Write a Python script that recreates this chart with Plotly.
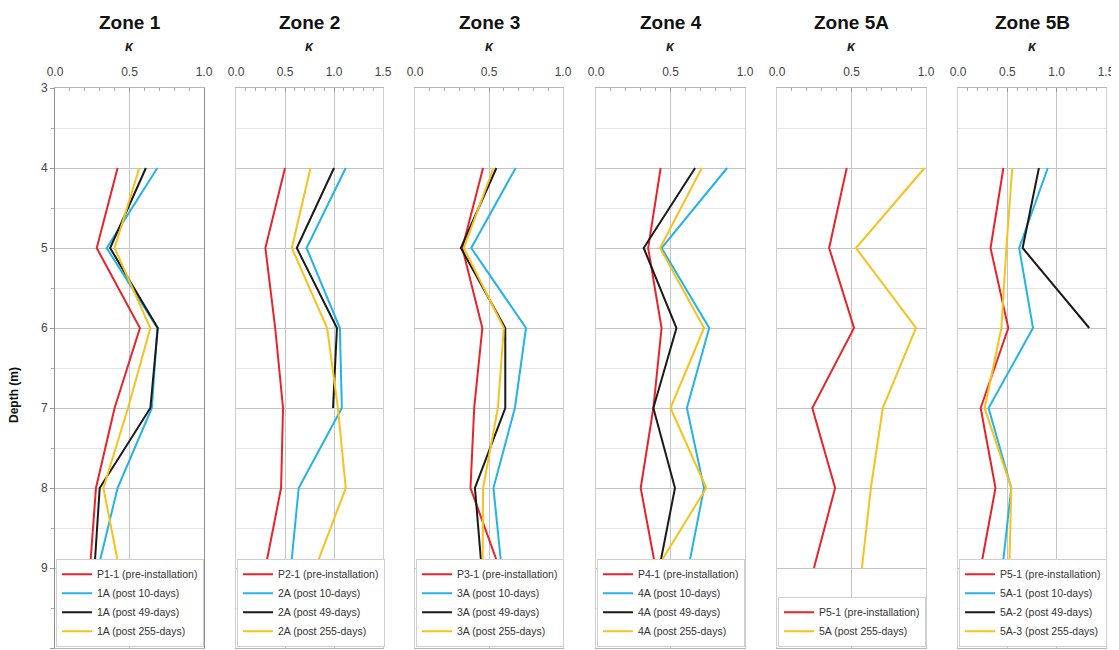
import plotly.graph_objects as go

# The page body has an 8px margin; the figure is sized so it fills the 1119x650 window exactly.
SCREEN_W, SCREEN_H = 1119, 650
OFF = 8
W, H = SCREEN_W - OFF, SCREEN_H - OFF

depths = [4, 5, 6, 7, 8, 9]

zone_titles = ["Zone 1", "Zone 2", "Zone 3", "Zone 4", "Zone 5A", "Zone 5B"]
x_max = [1.0, 1.5, 1.0, 1.0, 1.0, 1.5]

zone1_pre = [0.42, 0.28, 0.57, 0.40, 0.275, 0.235]
zone1_d10 = [0.687, 0.347, 0.687, 0.65, 0.42, 0.29]
zone1_d49 = [0.61, 0.37, 0.69, 0.64, 0.30, 0.265]
zone1_d255 = [0.566, 0.40, 0.64, 0.49, 0.325, 0.43]

zone2_pre = [0.50, 0.30, 0.40, 0.48, 0.46, 0.30]
zone2_d10 = [1.12, 0.72, 1.06, 1.08, 0.64, 0.56]
zone2_d49 = [1.0, 0.62, 1.03, 0.99, None, None]
zone2_d255 = [0.76, 0.57, 0.93, 1.04, 1.12, 0.81]

zone3_pre = [0.46, 0.32, 0.455, 0.40, 0.375, 0.57]
zone3_d10 = [0.68, 0.38, 0.75, 0.675, 0.53, 0.585]
zone3_d49 = [0.55, 0.31, 0.61, 0.61, 0.405, 0.45]
zone3_d255 = [0.53, 0.33, 0.60, 0.56, 0.46, 0.457]

zone4_pre = [0.434, 0.35, 0.44, 0.385, 0.30, 0.40]
zone4_d10 = [0.88, 0.44, 0.76, 0.61, 0.725, 0.62]
zone4_d49 = [0.665, 0.32, 0.54, 0.385, 0.53, 0.425]
zone4_d255 = [0.71, 0.43, 0.725, 0.50, 0.74, 0.41]

zone5a_pre = [0.468, 0.35, 0.517, 0.237, 0.39, 0.248]
zone5a_d255 = [0.99, 0.53, 0.933, 0.71, 0.63, 0.57]

zone5b_pre = [0.46, 0.33, 0.51, 0.23, 0.38, 0.23]
zone5b_d10 = [0.91, 0.62, 0.76, 0.31, 0.54, 0.45]
zone5b_d49 = [0.82, 0.655, 1.33, None, None, None]
zone5b_d255 = [0.55, 0.49, 0.44, 0.27, 0.54, 0.52]

RED, BLUE, BLACK, YELLOW = "#e8232a", "#22b3e8", "#1a1a1a", "#f7c21b"

panels = [
    [("P1-1 (pre-installation)", zone1_pre, RED), ("1A (post 10-days)", zone1_d10, BLUE),
     ("1A (post 49-days)", zone1_d49, BLACK), ("1A (post 255-days)", zone1_d255, YELLOW)],
    [("P2-1 (pre-installation)", zone2_pre, RED), ("2A (post 10-days)", zone2_d10, BLUE),
     ("2A (post 49-days)", zone2_d49, BLACK), ("2A (post 255-days)", zone2_d255, YELLOW)],
    [("P3-1 (pre-installation)", zone3_pre, RED), ("3A (post 10-days)", zone3_d10, BLUE),
     ("3A (post 49-days)", zone3_d49, BLACK), ("3A (post 255-days)", zone3_d255, YELLOW)],
    [("P4-1 (pre-installation)", zone4_pre, RED), ("4A (post 10-days)", zone4_d10, BLUE),
     ("4A (post 49-days)", zone4_d49, BLACK), ("4A (post 255-days)", zone4_d255, YELLOW)],
    [("P5-1 (pre-installation)", zone5a_pre, RED), ("5A (post 255-days)", zone5a_d255, YELLOW)],
    [("P5-1 (pre-installation)", zone5b_pre, RED), ("5A-1 (post 10-days)", zone5b_d10, BLUE),
     ("5A-2 (post 49-days)", zone5b_d49, BLACK), ("5A-3 (post 255-days)", zone5b_d255, YELLOW)],
]

# panel extents in screen pixels (left, right), plot top / bottom
px_left = [55, 236, 415, 596, 777, 958]
px_right = [204, 383, 563, 745, 926, 1106]
py_top, py_bot = 88, 648


def fx(px):
    return (px - OFF) / W


def fy(py):
    return (H - (py - OFF)) / H


FONT = "Liberation Sans, Arial, sans-serif"

fig = go.Figure()
layout = dict(
    width=W, height=H, margin=dict(l=0, r=0, t=0, b=0, autoexpand=False),
    paper_bgcolor="white", plot_bgcolor="white",
    font=dict(family=FONT, size=12, color="#333"),
    annotations=[],
)

ydom = [max(fy(py_bot), 0), fy(py_top)]
for i, series in enumerate(panels):
    k = i + 1
    xa = "x" if k == 1 else f"x{k}"
    ya = "y" if k == 1 else f"y{k}"
    lg = "legend" if k == 1 else f"legend{k}"
    for name, vals, col in series:
        fig.add_trace(go.Scatter(
            x=vals, y=depths, mode="lines", name=name,
            line=dict(color=col, width=2), connectgaps=False,
            xaxis=xa, yaxis=ya, legend=lg,
        ))
    xd = [fx(px_left[i]), fx(px_right[i])]
    layout["xaxis" if k == 1 else f"xaxis{k}"] = dict(
        domain=xd, anchor=ya, side="top", range=[0, x_max[i]], automargin=False,
        dtick=0.5, tickformat=".1f", ticks="inside", ticklen=4, tickcolor="#999",
        showline=True, linecolor="#b5b5b5", mirror=True,
        showgrid=True, gridcolor="#c4c4c4", gridwidth=1, zeroline=False,
        tickfont=dict(size=12, color="#444"), ticklabelstandoff=6,
        minor=dict(dtick=0.1, ticks="inside", ticklen=3, tickcolor="#aaa", showgrid=False),
    )
    layout["yaxis" if k == 1 else f"yaxis{k}"] = dict(
        domain=ydom, anchor=xa, range=[10, 3], dtick=1, automargin=False,
        showgrid=True, gridcolor="#c4c4c4", gridwidth=1, zeroline=False,
        showline=True, linecolor="#8f8f8f" if k == 1 else "#cfcfcf", mirror=True,
        showticklabels=(k == 1), ticks="outside" if k == 1 else "", ticklen=4, tickcolor="#999",
        tickfont=dict(size=12, color="#444"),
        minor=dict(dtick=0.5, showgrid=True, gridcolor="#e6e6e6",
                   ticks="outside" if k == 1 else "", ticklen=3, tickcolor="#aaa"),
    )
    layout[lg] = dict(
        x=fx(px_left[i] + 1), xanchor="left", y=ydom[0] + 0.002, yanchor="bottom",
        bgcolor="white", bordercolor="#cfcfcf", borderwidth=1,
        font=dict(size=10.5, color="#333", family=FONT), tracegroupgap=0,
        itemwidth=30,
    )
    cx = fx((px_left[i] + px_right[i]) / 2)
    layout["annotations"].append(dict(
        text=f"<b>{zone_titles[i]}</b>", x=cx, y=fy(22), xref="paper", yref="paper",
        showarrow=False, font=dict(size=19, color="#111", family=FONT), xanchor="center", yanchor="middle"))
    layout["annotations"].append(dict(
        text="<i><b>κ</b></i>", x=cx, y=fy(46), xref="paper", yref="paper",
        showarrow=False, font=dict(size=14, color="#222", family=FONT), xanchor="center", yanchor="middle"))

layout["annotations"].append(dict(
    text="<b>Depth (m)</b>", x=fx(14), y=fy(395), xref="paper", yref="paper",
    showarrow=False, textangle=-90, font=dict(size=12, color="#111", family=FONT),
    xanchor="center", yanchor="middle"))

fig.update_layout(**layout)
fig.write_html("out.html")
